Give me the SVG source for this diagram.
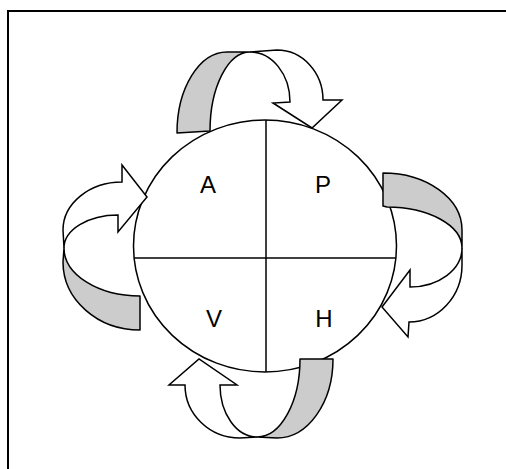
<svg xmlns="http://www.w3.org/2000/svg" width="506" height="469" viewBox="0 0 506 469">
<style>
.ln{fill:none;stroke:#000;stroke-width:1.5}
.gray{fill:#cccccc;stroke:#000;stroke-width:1.5;stroke-linejoin:round}
.white{fill:#fff;stroke:#000;stroke-width:1.5;stroke-linejoin:miter}
.lbl{font-family:"Liberation Sans",Arial,sans-serif;font-size:24px;fill:#000;text-anchor:middle}
</style>
<rect x="8" y="11" width="510" height="470" fill="#fff" stroke="#000" stroke-width="2"/>
<g id="circle">
<ellipse cx="265" cy="246" rx="131.5" ry="126" fill="#fff" stroke="#000" stroke-width="1.5"/>
<line class="ln" x1="266" y1="120" x2="266" y2="372"/>
<line class="ln" x1="134" y1="258" x2="396" y2="258"/>
</g>
<g id="labels">
<text class="lbl" x="208" y="193">A</text>
<text class="lbl" x="323" y="193">P</text>
<text class="lbl" x="214" y="327">V</text>
<text class="lbl" x="324" y="327">H</text>
</g>
<g id="connectors">
<g id="arrow-top">
<path class="gray" d="M177,133 A50,81 0 0 1 227,52 L250,52 A40,79 0 0 0 210,131 Z"/>
<path class="white" d="M250,52 L277,50 A46,50 0 0 1 323,100 L342,100 L312,128 L273,103 L290,102 A40,50 0 0 0 250,52 Z"/>
</g>
<g id="arrow-right">
<path class="gray" d="M383,173 A79,57 0 0 1 462,230 L462,248 A75,41 0 0 0 387,207 L383,206 Z"/>
<path class="white" d="M462,248 L462,265 A53,57 0 0 1 409,322 L408,337 L382,307 L410,270 L410,287 A52,39 0 0 0 462,248 Z"/>
</g>
<g id="arrow-bottom">
<path class="gray" d="M300,359 L333,359 A56,79 0 0 1 277,438 L257,437 A43,78 0 0 0 300,359 Z"/>
<path class="white" d="M240,438 L257,437 A37,52 0 0 1 220,385 L237,385 L199,359 L169,385 L185,385 A55,53 0 0 0 240,438 Z"/>
</g>
<g id="arrow-left">
<path class="gray" d="M140,330 L140,296 A76,48 0 0 1 64,248 L63,262 A77,68 0 0 0 140,330 Z"/>
<path class="white" d="M64,248 A54,33 0 0 1 118,215 L118,232 L147,197 L122,165 L122,182 A59,48 0 0 0 63,230 Z"/>
</g>
</g>
</svg>
